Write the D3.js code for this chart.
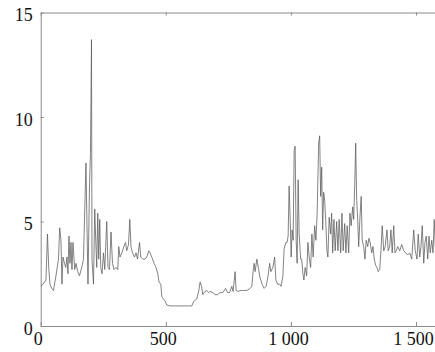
<!DOCTYPE html>
<html>
<head>
<meta charset="utf-8">
<script src="https://cdn.jsdelivr.net/npm/d3@7"></script>
<style>
  body { margin: 0; background: #fff; }
  .axis text { font-family: "Liberation Serif", "DejaVu Serif", serif; font-size: 18px; fill: #111; }
  .axis path, .axis line { stroke: #8a8a8a; }
</style>
</head>
<body>
<div id="chart"></div>
<script>
// sample positions and the signal read at them
var sampleIndex = [0, 9, 21, 27, 32, 37, 44, 51, 61, 71, 76, 81, 85, 89, 95, 100, 105, 109, 113, 117,
  121, 125, 129, 136, 141, 148, 155, 164, 171, 177, 181, 185, 189, 195, 199, 203, 205, 211, 216, 220,
  224, 228, 232, 236, 240, 245, 251, 256, 264, 269, 275, 281, 287, 293, 301, 308, 312, 317, 325, 332,
  339, 344, 351, 356, 361, 367, 375, 381, 387, 395, 400, 408, 417, 424, 432, 437, 444, 453, 461, 468,
  473, 480, 484, 491, 497, 504, 517, 540, 560, 580, 604, 611, 624, 632, 637, 643, 648, 656, 664, 671,
  677, 688, 697, 707, 717, 728, 739, 747, 755, 764, 769, 777, 781, 789, 797, 811, 824, 837, 844, 848,
  853, 857, 864, 871, 877, 885, 893, 901, 909, 915, 920, 928, 935, 940, 947, 955, 961, 968, 973, 980,
  985, 989, 993, 997, 1001, 1005, 1009, 1013, 1017, 1021, 1025, 1029, 1033, 1039, 1043, 1048, 1052, 1057, 1063, 1068,
  1073, 1079, 1084, 1089, 1095, 1100, 1105, 1111, 1115, 1119, 1123, 1127, 1131, 1135, 1139, 1144, 1148, 1153, 1159, 1163,
  1167, 1172, 1177, 1183, 1188, 1193, 1199, 1204, 1209, 1215, 1220, 1225, 1231, 1236, 1241, 1247, 1251, 1255, 1259, 1263,
  1267, 1271, 1276, 1281, 1285, 1291, 1296, 1301, 1307, 1312, 1317, 1323, 1328, 1333, 1339, 1344, 1349, 1355, 1360, 1365,
  1371, 1377, 1384, 1389, 1395, 1400, 1405, 1411, 1416, 1421, 1427, 1435, 1443, 1451, 1459, 1467, 1475, 1483, 1491, 1497,
  1504, 1509, 1515, 1520, 1525, 1531, 1536, 1541, 1547, 1552, 1557, 1563, 1568, 1573, 1577];

var signal = [1.9, 2.0, 2.2, 4.4, 2.8, 2.0, 1.8, 1.7, 2.4, 3.2, 4.7, 4.1, 2.0, 3.3, 3.0, 2.8, 3.3, 2.5, 4.3, 3.0,
  4.0, 2.7, 4.0, 2.7, 3.0, 2.6, 2.4, 2.8, 3.2, 6.0, 7.8, 4.8, 2.0, 6.7, 8.3, 13.7, 3.2, 2.0, 5.6, 4.1,
  2.8, 5.4, 3.2, 5.1, 2.8, 2.5, 3.5, 2.7, 5.0, 2.8, 2.7, 4.5, 3.0, 2.7, 2.8, 2.7, 3.8, 3.3, 3.5, 3.8,
  4.0, 3.6, 3.9, 5.1, 3.8, 3.5, 3.3, 3.5, 3.2, 4.0, 3.3, 3.2, 3.2, 3.3, 3.6, 3.5, 3.3, 3.0, 2.8, 2.5,
  2.1, 2.0, 1.4, 1.3, 1.2, 1.0, 0.96, 0.96, 0.96, 0.96, 0.96, 1.17, 1.3, 1.7, 2.1, 1.9, 1.5, 1.65, 1.7, 1.6,
  1.65, 1.6, 1.5, 1.5, 1.6, 1.6, 1.8, 1.6, 1.6, 1.9, 1.65, 2.6, 1.7, 1.65, 1.7, 1.7, 1.7, 1.8, 1.9, 2.5,
  3.0, 2.6, 3.2, 2.7, 2.3, 2.0, 1.8, 1.9, 2.4, 3.0, 2.6, 2.8, 3.3, 2.2, 2.0, 2.0, 1.9, 2.4, 3.7, 4.0,
  4.0, 4.3, 6.7, 5.2, 3.3, 4.6, 4.1, 8.4, 8.6, 4.1, 3.0, 7.0, 4.4, 3.2, 3.2, 2.5, 2.2, 2.8, 2.4, 4.0,
  3.3, 2.8, 4.4, 3.3, 4.8, 4.1, 5.4, 8.75, 9.1, 6.2, 7.6, 4.6, 6.4, 6.0, 5.1, 3.6, 3.3, 5.2, 4.4, 5.4,
  3.5, 5.1, 3.6, 5.0, 3.6, 5.1, 3.5, 5.4, 3.6, 4.9, 3.5, 4.8, 3.5, 5.4, 4.8, 5.7, 5.1, 6.7, 8.75, 6.0,
  5.1, 3.8, 5.2, 6.2, 4.1, 3.8, 3.2, 4.1, 3.8, 4.2, 4.0, 3.5, 3.8, 3.2, 2.9, 2.8, 2.6, 2.7, 3.6, 4.8,
  3.6, 3.8, 4.6, 3.6, 3.8, 4.6, 3.5, 4.8, 3.5, 3.6, 3.8, 3.6, 3.9, 3.6, 3.5, 3.4, 3.5, 3.2, 4.6, 3.6,
  3.2, 4.4, 3.3, 3.8, 4.8, 3.0, 4.0, 4.3, 3.2, 4.3, 3.5, 4.1, 3.5, 5.1, 3.8];

var xTicks = [0, 500, 1000, 1500],
  yTicks = [0, 5, 10, 15];

var width = 435,
  height = 352,
  plotLeft = 40.7,
  plotTop = 12.5,
  plotBottom = 326;

var x = d3.scaleLinear().domain([0, 1576]).range([plotLeft, width]),
  y = d3.scaleLinear().domain([0, 15]).range([plotBottom, plotTop]);

var spaced = d3.formatLocale({ decimal: ".", thousands: " ", grouping: [3], currency: ["", ""] }).format(",");

var svg = d3.select("#chart").append("svg")
  .attr("width", width)
  .attr("height", height);

svg.append("clipPath")
  .attr("id", "clip")
  .append("rect")
  .attr("x", plotLeft)
  .attr("y", 0)
  .attr("width", width - plotLeft)
  .attr("height", plotBottom);

// bottom axis, ticks pointing inward
var xAxis = svg.append("g")
  .attr("class", "axis")
  .attr("transform", "translate(0," + plotBottom + ")")
  .call(d3.axisBottom(x).tickValues(xTicks).tickFormat(spaced).tickSizeInner(-4).tickSizeOuter(0).tickPadding(6));
xAxis.selectAll("text").attr("dx", "-3");

// top border with small ticks
svg.append("g")
  .attr("class", "axis")
  .attr("transform", "translate(0," + plotTop + ")")
  .call(d3.axisTop(x).tickValues(xTicks).tickFormat("").tickSizeInner(-3).tickSizeOuter(0));

// left axis
var yAxis = svg.append("g")
  .attr("class", "axis")
  .attr("transform", "translate(" + plotLeft + ",0)")
  .call(d3.axisLeft(y).tickValues(yTicks).tickSizeInner(-3).tickSizeOuter(0).tickPadding(8));
yAxis.selectAll("text").attr("dy", "0.45em");

var line = d3.line()
  .x(function(d, i) { return x(sampleIndex[i]); })
  .y(function(d) { return y(d); });

svg.append("path")
  .datum(signal)
  .attr("clip-path", "url(#clip)")
  .attr("fill", "none")
  .attr("stroke", "#5a5a5a")
  .attr("stroke-width", 0.75)
  .attr("stroke-linejoin", "round")
  .attr("d", line);
</script>
</body>
</html>
